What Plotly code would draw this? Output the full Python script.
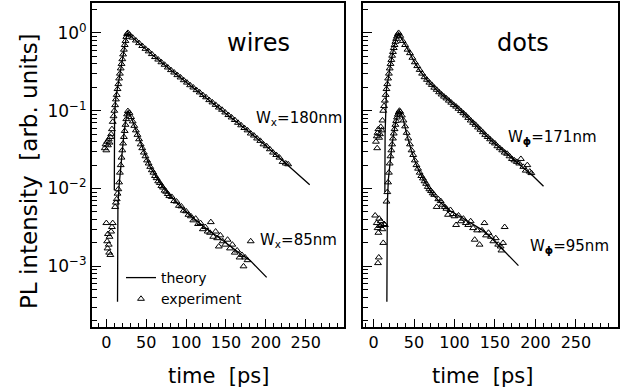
import plotly.graph_objects as go

# ---------------- data ----------------
# wires, W_x = 180 nm
wu_theory_t = [10, 10.3, 12, 14, 16, 18, 20, 22, 24, 26, 30, 40, 50, 60, 80, 100, 120, 140, 160, 180, 200, 220, 240, 255]
wu_theory_i = [0.0095, 0.09, 0.15, 0.2, 0.26, 0.34, 0.45, 0.59, 0.77, 1.0, 0.92, 0.75, 0.6, 0.5, 0.339, 0.234, 0.162, 0.112, 0.0776, 0.0525, 0.0355, 0.0234, 0.0155, 0.0112]
wu_exp_t = [-2, -1, 0, 1, 2, 3, 4, 5, 6, 7, 8, 9, 10, 11, 12, 13, 14, 15, 16, 17, 18, 19, 20, 21, 22, 23, 24, 25, 26, 27,
            29, 33, 37, 41, 45, 49, 53, 57, 61, 65, 69, 73, 77, 81, 85, 89, 93, 97, 101, 105, 109, 113, 117, 121, 125,
            129, 133, 137, 141, 145, 149, 153, 157, 161, 165, 169, 173, 177, 181, 185, 189, 193, 197, 201, 205, 209,
            213, 217, 221, 225, 228]
wu_exp_i = [0.033, 0.037, 0.031, 0.04, 0.036, 0.043, 0.039, 0.046, 0.05, 0.058, 0.072, 0.085, 0.1, 0.118, 0.14, 0.16,
            0.19, 0.22, 0.26, 0.3, 0.35, 0.4, 0.46, 0.53, 0.61, 0.7, 0.79, 0.89, 0.97, 1.0,
            0.95, 0.87, 0.8, 0.74, 0.68, 0.625, 0.58, 0.535, 0.49, 0.455, 0.42, 0.39, 0.36, 0.333, 0.31, 0.287, 0.268,
            0.247, 0.23, 0.213, 0.199, 0.184, 0.172, 0.159, 0.149, 0.137, 0.128, 0.119, 0.11, 0.103, 0.095, 0.088,
            0.082, 0.076, 0.07, 0.065, 0.06, 0.056, 0.051, 0.048, 0.044, 0.041, 0.037, 0.035, 0.032, 0.029, 0.027,
            0.025, 0.022, 0.021, 0.0205]

# wires, W_x = 85 nm
wl_theory_t = [14, 14.5, 16, 18, 20, 22, 24, 26, 27, 29, 32, 36, 40, 45, 50, 55, 60, 65, 70, 80, 90, 100, 110, 120,
               130, 140, 150, 160, 170, 180, 190, 201]
wl_theory_i = [0.00035, 0.006, 0.011, 0.02, 0.033, 0.05, 0.072, 0.094, 0.1, 0.094, 0.078, 0.06, 0.045, 0.033, 0.025,
               0.019, 0.0155, 0.0128, 0.0108, 0.0081, 0.0063, 0.005, 0.0041, 0.0034, 0.0028, 0.0024, 0.002, 0.0017,
               0.0014, 0.0012, 0.00095, 0.00072]
wl_exp_t = [0, 1, 1.5, 2, 3, 3.5, 4, 5, 6, 7, 8, 11, 12, 13, 14, 15, 16, 17, 18, 19, 20, 21, 22, 23, 24, 25, 26, 27,
            29, 31, 33, 35, 37, 39, 41, 43, 45, 47, 49, 51, 53, 55, 57, 59, 61, 63, 65, 67, 69, 71, 73, 75, 77, 79,
            82, 85, 88, 91, 94, 97, 100, 103, 106, 109, 112, 115, 118, 121, 124, 127, 130, 131, 134, 137, 139, 141,
            143, 146, 149, 152, 155, 158, 161, 164, 167, 170, 172, 174, 177, 181]
wl_exp_i = [0.0036, 0.0021, 0.0017, 0.0026, 0.0019, 0.0015, 0.0024, 0.0014, 0.0028, 0.0032, 0.0036, 0.0058, 0.0066,
            0.0073, 0.0086, 0.0098, 0.012, 0.016, 0.02, 0.025, 0.031, 0.038, 0.046, 0.055, 0.066, 0.078, 0.09, 0.099,
            0.094, 0.083, 0.073, 0.064, 0.056, 0.049, 0.043, 0.037, 0.033, 0.029, 0.026, 0.023, 0.021, 0.019, 0.0172,
            0.016, 0.0145, 0.0136, 0.0124, 0.0118, 0.0108, 0.0103, 0.0094, 0.0091, 0.0085, 0.008, 0.0078, 0.0069,
            0.0068, 0.006, 0.0059, 0.0052, 0.0051, 0.0046, 0.0044, 0.0039, 0.0041, 0.0035, 0.0036, 0.003, 0.0032,
            0.0028, 0.0027, 0.0037, 0.0024, 0.0028, 0.0023, 0.0018, 0.0025, 0.0021, 0.0019, 0.0022, 0.0017, 0.0019,
            0.0015, 0.0016, 0.0013, 0.0014, 0.001, 0.0013, 0.0012, 0.0021]

# dots, W_phi = 171 nm
du_theory_t = [14, 14.3, 16, 18, 20, 22, 24, 26, 28, 30.6, 35, 40, 45, 49, 57, 65.7, 74, 82, 92, 102.7, 113, 123, 134,
               144, 154, 164, 175, 185, 197, 210]
du_theory_i = [0.009, 0.05, 0.19, 0.26, 0.35, 0.45, 0.57, 0.7, 0.84, 1.0, 0.82, 0.68, 0.55, 0.45, 0.33, 0.25, 0.204,
               0.168, 0.138, 0.112, 0.089, 0.07, 0.054, 0.0427, 0.0347, 0.0282, 0.0229, 0.0186, 0.0145, 0.0107]
du_exp_t = [3, 4, 4.5, 5, 6, 7, 8, 9, 10, 11, 12, 13, 14, 15, 16, 17, 18, 19, 20, 21, 22, 23, 24, 25, 26, 27, 28, 29,
            30, 31, 33, 36, 39, 42, 45, 48, 51, 54, 57, 60, 63, 66, 69, 72, 75, 78, 81, 84, 87, 90, 93, 96, 99, 102,
            105, 108, 111, 114, 117, 120, 123, 126, 129, 132, 135, 138, 141, 144, 147, 150, 153, 156, 159, 162, 165,
            168, 171, 174, 177, 180, 182, 185, 188, 190, 193, 195]
du_exp_i = [0.04, 0.047, 0.033, 0.052, 0.058, 0.045, 0.05, 0.062, 0.056, 0.075, 0.1, 0.115, 0.135, 0.16, 0.19, 0.22,
            0.26, 0.3, 0.35, 0.4, 0.45, 0.51, 0.57, 0.64, 0.7, 0.77, 0.84, 0.9, 0.96, 1.0, 0.92, 0.79, 0.7, 0.61, 0.55,
            0.48, 0.42, 0.375, 0.335, 0.3, 0.27, 0.25, 0.23, 0.215, 0.198, 0.186, 0.173, 0.162, 0.152, 0.144, 0.135,
            0.127, 0.119, 0.113, 0.106, 0.099, 0.093, 0.087, 0.081, 0.075, 0.07, 0.066, 0.061, 0.057, 0.053, 0.049,
            0.046, 0.043, 0.04, 0.038, 0.035, 0.033, 0.031, 0.029, 0.028, 0.026, 0.024, 0.023, 0.022, 0.021, 0.024,
            0.019, 0.017, 0.02, 0.0165, 0.0158]

# dots, W_phi = 95 nm
dl_theory_t = [16.5, 17, 18.3, 20.4, 22.5, 24.4, 27, 30, 32, 34, 37, 41, 47, 53, 60, 66, 74, 84, 94, 105, 115, 125,
               135, 146, 156, 167, 179]
dl_theory_i = [0.00035, 0.006, 0.013, 0.023, 0.034, 0.047, 0.068, 0.09, 0.1, 0.094, 0.075, 0.05, 0.03, 0.02, 0.014,
               0.011, 0.0082, 0.0064, 0.0052, 0.0045, 0.0039, 0.0034, 0.0029, 0.0023, 0.0018, 0.0014, 0.00102]
dl_exp_t = [2, 4, 5, 5.5, 6, 6.5, 7, 8, 9, 10, 11, 12, 13, 14, 16, 17, 18, 19, 20, 21, 22, 23, 24, 25, 26, 27, 28, 29,
            30, 31, 32, 33, 35, 37, 39, 41, 43, 45, 47, 49, 51, 53, 55, 57, 59, 61, 63, 65, 67, 69, 71, 73, 75, 78,
            80, 83, 85, 88, 90, 92, 95, 98, 100, 102, 105, 108, 111, 114, 117, 120, 123, 125, 128, 131, 134, 137,
            139, 142, 145, 148, 151, 154, 157, 158, 160, 162]
dl_exp_i = [0.0045, 0.0036, 0.0031, 0.0011, 0.0027, 0.0013, 0.0041, 0.0033, 0.0038, 0.0034, 0.003, 0.002, 0.0035,
            0.0034, 0.0068, 0.009, 0.012, 0.016, 0.021, 0.026, 0.031, 0.037, 0.044, 0.051, 0.058, 0.066, 0.074, 0.082,
            0.089, 0.095, 0.1, 0.097, 0.087, 0.075, 0.063, 0.052, 0.044, 0.037, 0.031, 0.027, 0.023, 0.02, 0.018,
            0.016, 0.0145, 0.0135, 0.0124, 0.0115, 0.0105, 0.0098, 0.0093, 0.0087, 0.0083, 0.0058, 0.0073, 0.0069,
            0.0062, 0.0058, 0.0055, 0.0046, 0.0053, 0.0047, 0.0044, 0.0034, 0.0045, 0.0038, 0.0041, 0.0036, 0.0034,
            0.0038, 0.0031, 0.0022, 0.0029, 0.0019, 0.0029, 0.0036, 0.0025, 0.0027, 0.0024, 0.0021, 0.0023, 0.0019,
            0.0018, 0.0016, 0.002, 0.0032]

x_tick_vals = [0, 50, 100, 150, 200, 250]
x_minor_vals = [-10, 10, 20, 30, 40, 60, 70, 80, 90, 110, 120, 130, 140, 160, 170, 180, 190, 210, 220, 230, 240, 260,
                270, 280, 290]
y_tick_vals = [1e-3, 1e-2, 1e-1, 1]
y_tick_text = ["10<sup>−3</sup>", "10<sup>−2</sup>", "10<sup>−1</sup>", "10<sup>0</sup>"]
y_minor_vals = [k * 10.0 ** d for d in range(-4, 1) for k in range(2, 10)]

# ---------------- figure ----------------
FONT = "DejaVu Sans"
fig = go.Figure()

line_style = dict(color="black", width=1.3)
marker_style = dict(symbol="triangle-up-open", size=6, color="black", line=dict(width=1, color="black"))

panels = [
    ("x", "y", [(wu_theory_t, wu_theory_i, wu_exp_t, wu_exp_i), (wl_theory_t, wl_theory_i, wl_exp_t, wl_exp_i)]),
    ("x2", "y2", [(du_theory_t, du_theory_i, du_exp_t, du_exp_i), (dl_theory_t, dl_theory_i, dl_exp_t, dl_exp_i)]),
]
first = True
for xa, ya, curves in panels:
    for tt, ti, et, ei in curves:
        fig.add_trace(go.Scatter(x=tt, y=ti, mode="lines", line=line_style, xaxis=xa, yaxis=ya,
                                 name="theory", showlegend=first, legendrank=1))
        fig.add_trace(go.Scatter(x=et, y=ei, mode="markers", marker=marker_style, xaxis=xa, yaxis=ya,
                                 name="experiment", showlegend=first, legendrank=2))
        first = False

axis_common = dict(showline=True, linecolor="black", linewidth=2, mirror=True, ticks="inside",
                   tickcolor="black", tickwidth=1.2, showgrid=False, zeroline=False)

xaxis_common = dict(axis_common, tickmode="array", tickvals=x_tick_vals, ticklen=8,
                    tickfont=dict(family=FONT, size=16, color="black"),
                    minor=dict(tickmode="array", tickvals=x_minor_vals, ticks="inside", ticklen=4,
                               tickcolor="black", tickwidth=1.2, showgrid=False))
yaxis_common = dict(axis_common, type="log", range=[-3.78, 0.385], tickmode="array", tickvals=y_tick_vals,
                    ticktext=y_tick_text, ticklen=9,
                    tickfont=dict(family=FONT, size=17, color="black"),
                    minor=dict(tickmode="array", tickvals=y_minor_vals, ticks="inside", ticklen=5,
                               tickcolor="black", tickwidth=1.2, showgrid=False))

W, H = 624, 388
fig.update_layout(
    width=W, height=H, margin=dict(l=0, r=0, t=0, b=0),
    paper_bgcolor="white", plot_bgcolor="white",
    font=dict(family=FONT, color="black"),
    xaxis=dict(xaxis_common, domain=[92 / W, 344 / W], range=[-18, 298], anchor="y"),
    yaxis=dict(yaxis_common, domain=[1 - 327 / H, 1 - 3 / H], anchor="x"),
    xaxis2=dict(xaxis_common, domain=[363 / W, 618 / W], range=[-13, 302], anchor="y2"),
    yaxis2=dict(yaxis_common, domain=[1 - 327 / H, 1 - 3 / H], anchor="x2", showticklabels=False),
    legend=dict(x=121 / W, y=1 - 262 / H, xanchor="left", yanchor="top", bgcolor="rgba(0,0,0,0)",
                font=dict(family=FONT, size=14, color="black"), itemwidth=30, tracegroupgap=0),
    showlegend=True,
)

def ann(text, px, py, size, xanchor="center", angle=0):
    fig.add_annotation(text=text, x=px / W, y=1 - py / H, xref="paper", yref="paper", showarrow=False,
                       xanchor=xanchor, yanchor="middle", textangle=angle,
                       font=dict(family=FONT, size=size, color="black"))

PHI = "<b>ϕ</b>"
ann("wires", 258, 43, 24)
ann("dots", 523, 43, 24)
ann("W<sub>x</sub>=180nm", 344, 118, 15, xanchor="right")
ann("W<sub>x</sub>=85nm", 258, 240, 15, xanchor="left")
ann("W<sub>" + PHI + "</sub>=171nm", 506, 137, 15, xanchor="left")
ann("W<sub>" + PHI + "</sub>=95nm", 528, 247, 15, xanchor="left")
ann("time  [ps]", 219, 376, 21)
ann("time  [ps]", 482, 376, 21)
ann("PL intensity  [arb. units]", 29, 171, 23, angle=-90)

fig.write_html("out.html", config={"displayModeBar": False},
               post_script="document.body.style.margin='0';document.body.style.padding='0';")
